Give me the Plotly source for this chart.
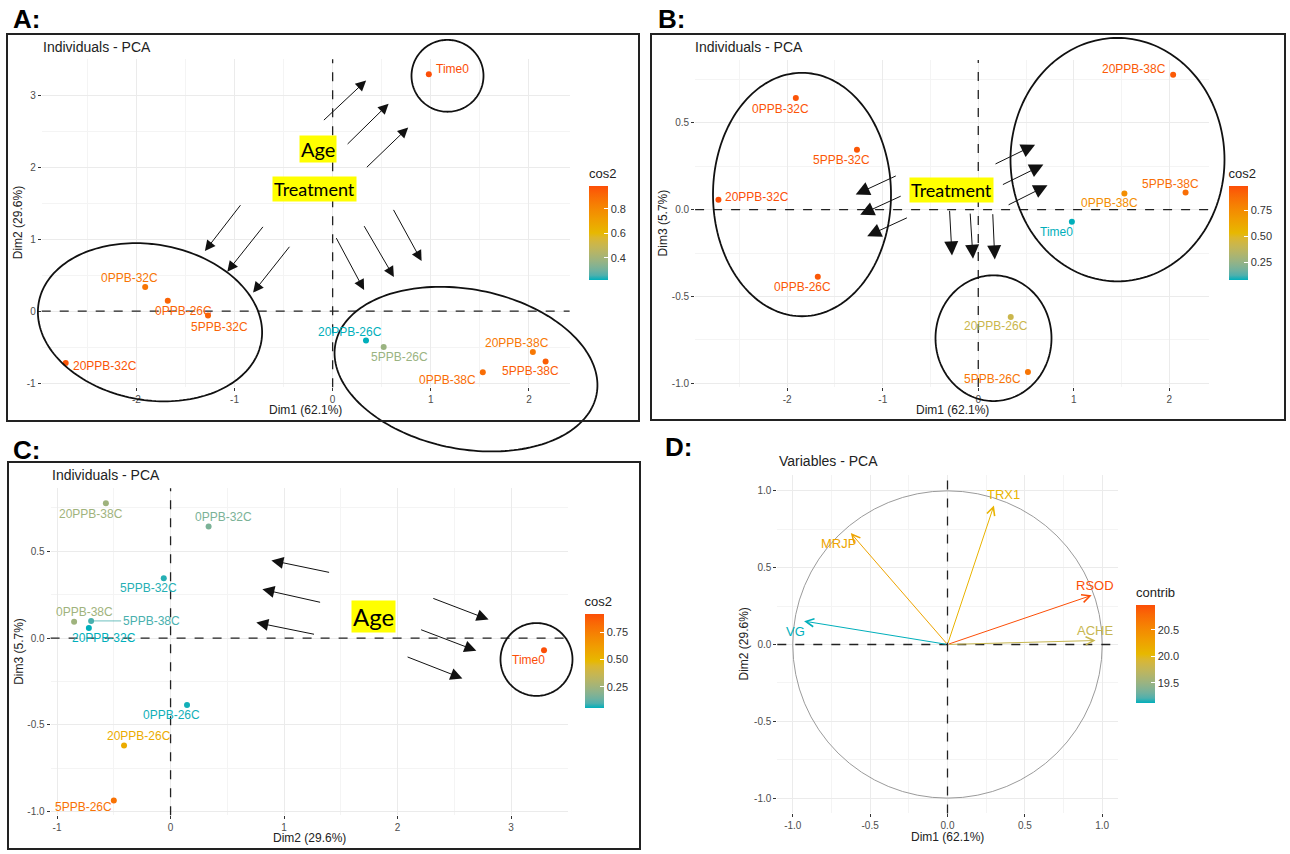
import numpy as np
import plotly.graph_objects as go
from plotly.colors import sample_colorscale

W, H = 1290, 854

# ---------------- data ----------------
samples = ["Time0", "0PPB-26C", "0PPB-32C", "0PPB-38C", "5PPB-26C",
           "5PPB-32C", "5PPB-38C", "20PPB-26C", "20PPB-32C", "20PPB-38C"]
dim1 = [0.98, -1.68, -1.91, 1.53, 0.52, -1.27, 2.17, 0.34, -2.72, 2.04]
dim2 = [3.29, 0.145, 0.335, -0.85, -0.50, -0.06, -0.70, -0.41, -0.72, -0.57]
dim3 = [-0.07, -0.386, 0.643, 0.094, -0.935, 0.345, 0.099, -0.618, 0.058, 0.777]

cos2_dim12 = [0.99, 0.93, 0.87, 0.90, 0.38, 0.93, 0.95, 0.22, 0.97, 0.86]
cos2_dim13 = [0.08, 0.96, 0.97, 0.74, 0.85, 0.96, 0.88, 0.42, 0.99, 0.95]
cos2_dim23 = [0.92, 0.07, 0.17, 0.25, 0.80, 0.08, 0.10, 0.55, 0.06, 0.25]

variables = ["VG", "MRJP", "TRX1", "RSOD", "ACHE"]
var_dim1 = [-0.927, -0.625, 0.30, 0.932, 0.957]
var_dim2 = [0.152, 0.725, 0.905, 0.32, 0.026]
var_contrib = [19.13, 20.25, 20.10, 20.97, 19.80]

axis_titles = {"d1": "Dim1 (62.1%)", "d2": "Dim2 (29.6%)", "d3": "Dim3 (5.7%)"}

# ---------------- colour scale (gradient interpolated in Lab, like ggplot) ----------------
BASE = ["#00AFBB", "#E7B800", "#FC4E07"]


def _hex2rgb(h):
    h = h.lstrip("#")
    return [int(h[i:i + 2], 16) / 255 for i in (0, 2, 4)]


def _rgb2lab(c):
    lin = [((v + 0.055) / 1.055) ** 2.4 if v > 0.04045 else v / 12.92 for v in c]
    M = np.array([[0.4124, 0.3576, 0.1805], [0.2126, 0.7152, 0.0722], [0.0193, 0.1192, 0.9505]])
    X, Y, Z = M @ np.array(lin)
    X, Z = X / 0.95047, Z / 1.08883

    def f(t):
        return t ** (1 / 3) if t > 0.008856 else 7.787 * t + 16 / 116
    fx, fy, fz = f(X), f(Y), f(Z)
    return np.array([116 * fy - 16, 500 * (fx - fy), 200 * (fy - fz)])


def _lab2hex(lab):
    L, a, b = lab
    fy = (L + 16) / 116
    fx, fz = fy + a / 500, fy - b / 200

    def fi(t):
        return t ** 3 if t ** 3 > 0.008856 else (t - 16 / 116) / 7.787
    X, Y, Z = fi(fx) * 0.95047, fi(fy), fi(fz) * 1.08883
    Mi = np.array([[3.2406, -1.5372, -0.4986], [-0.9689, 1.8758, 0.0415], [0.0557, -0.2040, 1.0570]])
    lin = Mi @ np.array([X, Y, Z])
    out = []
    for v in lin:
        v = 1.055 * v ** (1 / 2.4) - 0.055 if v > 0.0031308 else 12.92 * v
        out.append(int(round(min(max(v, 0), 1) * 255)))
    return "#%02X%02X%02X" % tuple(out)


def lab_scale(cols, n=21):
    labs = [_rgb2lab(_hex2rgb(c)) for c in cols]
    scale = []
    for k in range(n):
        t = k / (n - 1)
        seg = min(int(t * (len(cols) - 1)), len(cols) - 2)
        u = t * (len(cols) - 1) - seg
        scale.append([t, _lab2hex(labs[seg] * (1 - u) + labs[seg + 1] * u)])
    return scale


GRAD = lab_scale(BASE)
FONT = "Liberation Sans, Arial, sans-serif"
CAL = "Lato, Open Sans, sans-serif"


def px(xp):
    return xp / W


def py(yp):
    return 1 - yp / H


def expand(v, f=0.05):
    lo, hi = min(v), max(v)
    s = hi - lo
    return [lo - f * s, hi + f * s]


def colors_for(vals):
    lo, hi = min(vals), max(vals)
    return sample_colorscale(GRAD, [(v - lo) / (hi - lo) for v in vals])


def fmt_ticks(vals, nd):
    return [("{:.%df}" % nd).format(v) for v in vals]


fig = go.Figure()

# panel geometry in pixels: (left, right, top, bottom)
panels = {
    "A": dict(xa="x", ya="y", xd=dim1, yd=dim2, c=cos2_dim12, ca="coloraxis",
              dom=(41.7, 569.6, 59.4, 388.1)),
    "B": dict(xa="x2", ya="y2", xd=dim1, yd=dim3, c=cos2_dim13, ca="coloraxis2",
              dom=(695.1, 1208.9, 60.1, 387.8)),
    "C": dict(xa="x3", ya="y3", xd=dim2, yd=dim3, c=cos2_dim23, ca="coloraxis3",
              dom=(50.6, 567.5, 489.5, 817.2)),
}

# label offsets (pixels right, pixels down) for each sample, per panel
label_off = {
    "A": [(24, -5), (15.5, 10), (-16, -9), (-35.5, 8), (15.5, 10), (11.5, 12),
          (-15.5, 10), (-16, -9), (39, 3), (-16, -9)],
    "B": [(-15, 10), (-15, 10), (-15, 11), (-15, 10), (-35, 7), (-15, 10),
          (-15, -9), (-15, 9), (39, -3), (-39, -6)],
    "C": [(-15.5, 10), (-15.5, 10), (15, -9), (10, -10), (-30, 7), (-15, 10),
          (60, 0), (15, -9), (15, 10), (-15, 11)],
}
segment_labels = {"C": ["5PPB-38C"]}

for key, p in panels.items():
    fig.add_trace(go.Scatter(
        x=p["xd"], y=p["yd"], mode="markers", xaxis=p["xa"], yaxis=p["ya"],
        marker=dict(size=6, color=p["c"], coloraxis=p["ca"]),
        text=samples, hoverinfo="text", showlegend=False))
    cols = colors_for(p["c"])
    for i, s in enumerate(samples):
        dx, dy = label_off[key][i]
        if s in segment_labels.get(key, []):
            fig.add_annotation(x=p["xd"][i], y=p["yd"][i], xref=p["xa"], yref=p["ya"],
                               text=s, showarrow=True, ax=dx, ay=dy, arrowhead=0,
                               arrowwidth=0.8, arrowcolor=cols[i], standoff=2,
                               font=dict(family=FONT, size=12, color=cols[i]))
        else:
            fig.add_annotation(x=p["xd"][i], y=p["yd"][i], xref=p["xa"], yref=p["ya"],
                               text=s, showarrow=False, xshift=dx, yshift=-dy,
                               font=dict(family=FONT, size=12, color=cols[i]))

# ---------------- variables panel D ----------------
vcols = colors_for(var_contrib)
fig.add_trace(go.Scatter(
    x=var_dim1, y=var_dim2, mode="markers", xaxis="x4", yaxis="y4",
    marker=dict(size=0.1, color=var_contrib, coloraxis="coloraxis4"),
    text=variables, hoverinfo="text", showlegend=False))
var_off = [(-9, 10), (-12, 10), (10, -11), (3, -10), (-1, -10)]
for i, v in enumerate(variables):
    fig.add_annotation(x=var_dim1[i], y=var_dim2[i], xref="x4", yref="y4",
                       ax=0, ay=0, axref="x4", ayref="y4", text="",
                       showarrow=True, arrowhead=5, arrowsize=1.6, arrowwidth=1,
                       arrowcolor=vcols[i])
    dx, dy = var_off[i]
    fig.add_annotation(x=var_dim1[i], y=var_dim2[i], xref="x4", yref="y4",
                       text=v, showarrow=False, xshift=dx, yshift=-dy,
                       font=dict(family=FONT, size=13, color=vcols[i]))

fig.add_shape(type="circle", xref="x4", yref="y4", x0=-1, x1=1, y0=-1, y1=1,
              line=dict(color="#8F8F8F", width=0.9))


# ---------------- axes ----------------
def axis_style(rng, dom, tickvals, nd, minor_dt, anchor):
    return dict(range=rng, domain=dom, anchor=anchor, zeroline=False, showline=False,
                showgrid=True, gridcolor="#EBEBEB", gridwidth=1,
                tickmode="array", tickvals=tickvals, ticktext=fmt_ticks(tickvals, nd),
                ticks="outside", ticklen=3, tickcolor="#333333", tickwidth=1,
                tickfont=dict(family=FONT, size=10, color="#4D4D4D"),
                minor=dict(showgrid=True, gridcolor="#F4F4F4", gridwidth=0.7,
                           tickmode="linear", tick0=0, dtick=minor_dt, ticks=""),
                fixedrange=True)


rd1, rd2, rd3 = expand(dim1), expand(dim2), expand(dim3)


def xdom(d):
    return [px(d[0]), px(d[1])]


def ydom(d):
    return [py(d[3]), py(d[2])]


A, B, C = panels["A"]["dom"], panels["B"]["dom"], panels["C"]["dom"]
D = (777.3, 1117.7, 476.6, 815.4)

fig.update_layout(
    xaxis=axis_style(rd1, xdom(A), [-2, -1, 0, 1, 2], 0, 0.5, "y"),
    yaxis=axis_style(rd2, ydom(A), [-1, 0, 1, 2, 3], 0, 0.5, "x"),
    xaxis2=axis_style(rd1, xdom(B), [-2, -1, 0, 1, 2], 0, 0.5, "y2"),
    yaxis2=axis_style(rd3, ydom(B), [-1.0, -0.5, 0.0, 0.5], 1, 0.25, "x2"),
    xaxis3=axis_style(rd2, xdom(C), [-1, 0, 1, 2, 3], 0, 0.5, "y3"),
    yaxis3=axis_style(rd3, ydom(C), [-1.0, -0.5, 0.0, 0.5], 1, 0.25, "x3"),
    xaxis4=axis_style([-1.1, 1.1], xdom(D), [-1.0, -0.5, 0.0, 0.5, 1.0], 1, 0.25, "y4"),
    yaxis4=axis_style([-1.1, 1.1], ydom(D), [-1.0, -0.5, 0.0, 0.5, 1.0], 1, 0.25, "x4"),
)

# dashed zero lines
for xa, ya in [("x", "y"), ("x2", "y2"), ("x3", "y3"), ("x4", "y4")]:
    fig.add_shape(type="line", xref=xa, yref=ya + " domain", x0=0, x1=0, y0=0, y1=1,
                  line=dict(color="#222222", width=1.3, dash="dash"))
    fig.add_shape(type="line", xref=xa + " domain", yref=ya, x0=0, x1=1, y0=0, y1=0,
                  line=dict(color="#222222", width=1.3, dash="dash"))


# ---------------- colorbars ----------------
def cbar(left, top, length, title, tickvals, fmt):
    return dict(title=dict(text=title, side="top", font=dict(family=FONT, size=13, color="#222")),
                x=px(left), xanchor="left", y=py(top), yanchor="top",
                len=length, lenmode="pixels", thickness=19, thicknessmode="pixels",
                outlinewidth=0, xpad=0, ypad=0, ticks="inside", ticklen=4,
                tickcolor="white", tickwidth=1, tickmode="array", tickvals=tickvals,
                tickformat=fmt, tickfont=dict(family=FONT, size=11, color="#333"))


fig.update_layout(
    coloraxis=dict(colorscale=GRAD, colorbar=cbar(589, 166, 114, "cos2", [0.4, 0.6, 0.8], ".1f")),
    coloraxis2=dict(colorscale=GRAD, colorbar=cbar(1228.5, 166, 114, "cos2", [0.25, 0.5, 0.75], ".2f")),
    coloraxis3=dict(colorscale=GRAD, colorbar=cbar(584.5, 595, 114, "cos2", [0.25, 0.5, 0.75], ".2f")),
    coloraxis4=dict(colorscale=GRAD, colorbar=cbar(1136, 586, 118, "contrib", [19.5, 20.0, 20.5], ".1f")),
)


# ---------------- text annotations ----------------
def txt(x, y, s, size, xanchor="center", angle=0, bold=False, color="#222", family=FONT):
    fig.add_annotation(x=px(x), y=py(y), xref="paper", yref="paper",
                       text=("<b>%s</b>" % s) if bold else s,
                       showarrow=False, xanchor=xanchor, yanchor="middle", textangle=angle,
                       font=dict(family=family, size=size, color=color))


# panel letters
txt(11, 19, "A:", 26, "left", bold=True, color="#000")
txt(656, 19, "B:", 26, "left", bold=True, color="#000")
txt(11, 451, "C:", 26, "left", bold=True, color="#000")
txt(663, 448, "D:", 26, "left", bold=True, color="#000")

# titles
txt(41, 47, "Individuals - PCA", 14, "left")
txt(693, 47, "Individuals - PCA", 14, "left")
txt(50, 476, "Individuals - PCA", 14, "left")
txt(777, 462, "Variables - PCA", 14, "left")

# axis titles
txt((A[0] + A[1]) / 2, 411, axis_titles["d1"], 12)
txt(18, (A[2] + A[3]) / 2, axis_titles["d2"], 12, angle=-90)
txt((B[0] + B[1]) / 2, 411, axis_titles["d1"], 12)
txt(663, (B[2] + B[3]) / 2, axis_titles["d3"], 12, angle=-90)
txt((C[0] + C[1]) / 2, 840, axis_titles["d2"], 12)
txt(19, (C[2] + C[3]) / 2, axis_titles["d3"], 12, angle=-90)
txt((D[0] + D[1]) / 2, 839, axis_titles["d1"], 12)
txt(744, (D[2] + D[3]) / 2, axis_titles["d2"], 12, angle=-90)


# yellow highlighted words
def highlight(x, y, s, size):
    fig.add_annotation(x=px(x), y=py(y), xref="paper", yref="paper", text=s, showarrow=False,
                       bgcolor="#FFFF00", borderpad=1, xanchor="center", yanchor="middle",
                       font=dict(family=CAL, size=size, color="#000"))


highlight(317.5, 149, "Age", 20)
highlight(314.5, 189, "Treatment", 18)
highlight(951.8, 190, "Treatment", 18)
highlight(373, 618, "Age", 24)

# ---------------- drawn arrows (tail px, tip px, head size) ----------------
arrows = [
    # panel A
    ((322.4, 121.7), (366.1, 80.7), 2.1), ((346.1, 145.7), (388.6, 104), 2.1),
    ((365.3, 169), (408.2, 127.7), 2.1), ((241.6, 204.3), (204.9, 251.7), 2.1),
    ((264.1, 226), (227.3, 272.3), 2.1), ((290.6, 246), (253.1, 293.3), 2.1),
    ((335.5, 237.3), (364.1, 290.7), 2.1), ((363.3, 225.3), (393.9, 277.7), 2.1),
    ((392.7, 209), (421.6, 261.7), 2.1),
    # panel B
    ((994, 165), (1035.1, 145), 2.8), ((1001.4, 185.7), (1043.4, 165), 2.8),
    ((1007.1, 206), (1047.5, 185.7), 2.8), ((897.3, 175.7), (855.7, 195), 2.8),
    ((902.2, 196), (860.2, 215.3), 2.8), ((908.4, 217.7), (867.2, 236.7), 2.8),
    ((949.5, 210), (952, 256), 2.8), ((970.1, 212.7), (973, 259.3), 2.8),
    ((992.7, 213.3), (994.8, 260), 2.8),
    # panel C
    ((330.6, 574), (271.4, 561.7), 2.4), ((321.6, 604), (262.4, 590.7), 2.4),
    ((315.5, 636), (256.3, 624), 2.4), ((431.8, 599.3), (488.6, 621), 2.4),
    ((419.6, 630.7), (476.3, 652.3), 2.4), ((406.1, 658), (462.4, 680), 2.4),
]
for (tx, ty), (hx, hy), sz in arrows:
    fig.add_annotation(x=px(hx), y=py(hy), xref="paper", yref="paper", text="",
                       showarrow=True, ax=tx - hx, ay=ty - hy, arrowhead=2,
                       arrowsize=sz, arrowwidth=1, arrowcolor="#111")


# ---------------- drawn ellipses ----------------
def ellipse_path(cx, cy, a, b, theta_deg):
    t = np.linspace(0, 2 * np.pi, 181)
    th = np.radians(theta_deg)
    xs = cx + a * np.cos(th) * np.cos(t) - b * np.sin(th) * np.sin(t)
    ys = cy + a * np.sin(th) * np.cos(t) + b * np.cos(th) * np.sin(t)
    return "M" + "L".join("%.5f,%.5f" % (px(x_), py(y_)) for x_, y_ in zip(xs, ys)) + "Z"


ellipses = [
    (150, 323, 113, 78, 10),
    (466, 370, 133, 80, 11),
    (447.5, 76, 36, 36, 0),
    (802, 195, 89, 122, 0),
    (1117.5, 160, 107, 122, 0),
    (993.5, 339, 58, 63, 0),
    (536.5, 661, 36, 36.5, 0),
]
for cx, cy, a, b, th in ellipses:
    fig.add_shape(type="path", xref="paper", yref="paper",
                  path=ellipse_path(cx, cy, a, b, th),
                  line=dict(color="#111", width=1.8))

# panel frames
for l, t, r, b in [(7, 34, 639, 422), (651, 34, 1285, 421), (8, 463, 640, 851)]:
    fig.add_shape(type="rect", xref="paper", yref="paper", x0=px(l), x1=px(r), y0=py(b), y1=py(t),
                  line=dict(color="#222", width=2))

fig.update_layout(width=W, height=H, margin=dict(l=0, r=0, t=0, b=0),
                  paper_bgcolor="white", plot_bgcolor="white",
                  font=dict(family=FONT), showlegend=False)

fig.write_html("out.html")
